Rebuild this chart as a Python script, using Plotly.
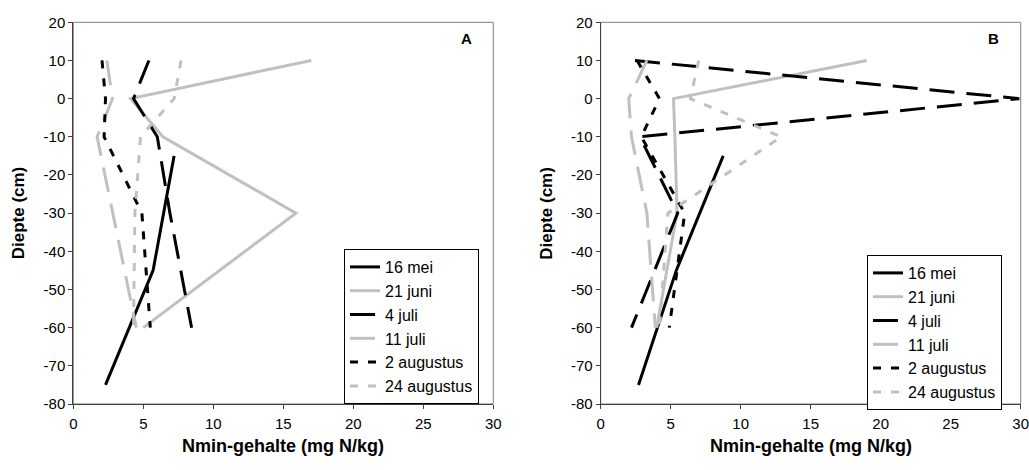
import plotly.graph_objects as go

# Sampling depths (cm); 16 mei was sampled in 30 cm layers
depth_layers = [10, 0, -10, -30, -60]
depth_mei = [-15, -45, -75]

# Nmin content (mg N/kg), location A
mei_16_A = [7.2, 5.7, 2.3]
juni_21_A = [17.0, 4.1, 6.4, 15.9, 5.0]
juli_4_A = [5.4, 4.3, 6.0, 6.9, 8.45]
juli_11_A = [2.4, 2.8, 1.7, 2.8, 4.5]
aug_2_A = [2.05, 2.3, 2.2, 4.9, 5.5]
aug_24_A = [7.7, 7.2, 4.8, 4.4, 4.3]

# Nmin content (mg N/kg), location B
mei_16_B = [8.75, 5.4, 2.7]
juni_21_B = [19.0, 5.2, 5.3, 5.45, 4.0]
juli_4_B = [2.45, 29.9, 2.8, 5.5, 2.2]
juli_11_B = [3.3, 2.0, 2.2, 3.3, 3.9]
aug_2_B = [2.6, 4.2, 2.9, 6.0, 4.9]
aug_24_B = [7.0, 6.4, 12.9, 4.8, 4.2]

series_names = ["16 mei", "21 juni", "4 juli", "11 juli", "2 augustus", "24 augustus"]
x_ticks = [0, 5, 10, 15, 20, 25, 30]
y_ticks = [20, 10, 0, -10, -20, -30, -40, -50, -60, -70, -80]
y_tick_labels = ["20", "10", "0", "-10", "-20", "-30", "-40", "-50", "-60", "-70", "-80"]

BLACK = "#000000"
GREY = "#C0C0C0"
LONG = "25px,12px"
SHORT = "8px,10px"
styles = [
    (BLACK, "solid"),
    (GREY, "solid"),
    (BLACK, LONG),
    (GREY, LONG),
    (BLACK, SHORT),
    (GREY, SHORT),
]

FONT = "Arial, Liberation Sans, sans-serif"

fig = go.Figure()

panels = [
    ("x", "y", "legend", [mei_16_A, juni_21_A, juli_4_A, juli_11_A, aug_2_A, aug_24_A]),
    ("x2", "y2", "legend2", [mei_16_B, juni_21_B, juli_4_B, juli_11_B, aug_2_B, aug_24_B]),
]

for xa, ya, leg, values in panels:
    for i, (name, vals, (col, dash)) in enumerate(zip(series_names, values, styles)):
        depths = depth_mei if len(vals) == 3 else depth_layers
        fig.add_trace(go.Scatter(
            x=vals, y=depths, name=name, mode="lines",
            line=dict(color=col, width=3, dash=dash),
            xaxis=xa, yaxis=ya, legend=leg, legendgroup=f"{leg}-{i}",
        ))

W, H = 1029, 470
ax_common = dict(
    showgrid=False, zeroline=False, showline=True, linecolor="#404040", linewidth=1,
    mirror=False, ticks="outside", ticklen=4, tickcolor="#404040", automargin=False,
    ticklabeloverflow="allow",
    tickfont=dict(family=FONT, size=15, color="#000000"),
)
x_common = dict(range=[0, 30], tickvals=x_ticks, ticklabelstandoff=2, **ax_common)
y_common = dict(range=[-80, 20], tickvals=y_ticks, ticktext=y_tick_labels, **ax_common)

# plot-area pixel extents
ax_px = [(73.3, 493.3), (600.7, 1020.7)]
y_top, y_bot = 22.3, 404.0
y_dom = [1 - y_bot / H, 1 - y_top / H]

legend_common = dict(xanchor="left", yanchor="top", bgcolor="white",
                     bordercolor="#000000", borderwidth=1,
                     font=dict(family=FONT, size=16), tracegroupgap=0,
                     traceorder="grouped")

fig.update_layout(
    template="none",
    width=W, height=H, margin=dict(l=0, r=0, t=0, b=0, autoexpand=False),
    paper_bgcolor="white", plot_bgcolor="white",
    font=dict(family=FONT, color="#000000"),
    xaxis=dict(domain=[ax_px[0][0] / W, ax_px[0][1] / W], anchor="y", **x_common),
    yaxis=dict(domain=y_dom, anchor="x", **y_common),
    xaxis2=dict(domain=[ax_px[1][0] / W, ax_px[1][1] / W], anchor="y2", **x_common),
    yaxis2=dict(domain=y_dom, anchor="x2", **y_common),
    legend=dict(x=344 / W, y=1 - 249 / H, **legend_common),
    legend2=dict(x=867 / W, y=1 - 255 / H, **legend_common),
    showlegend=True,
)

# plot-area frames
for (x0, x1) in ax_px:
    fig.add_shape(type="rect", xref="paper", yref="paper",
                  x0=x0 / W, x1=x1 / W, y0=y_dom[0], y1=y_dom[1],
                  line=dict(color="#808080", width=1), layer="below")

# panel letters
for (x0, x1), letter in zip(ax_px, ["A", "B"]):
    fig.add_annotation(text=f"<b>{letter}</b>", xref="paper", yref="paper",
                       x=(x1 - 27) / W, y=1 - 38 / H, showarrow=False,
                       xanchor="center", yanchor="middle",
                       font=dict(family=FONT, size=15))

# axis titles
for (x0, x1) in ax_px:
    fig.add_annotation(text="<b>Nmin-gehalte (mg N/kg)</b>", xref="paper", yref="paper",
                       x=(x0 + x1) / 2 / W, y=1 - 446 / H, showarrow=False,
                       xanchor="center", yanchor="middle",
                       font=dict(family=FONT, size=18))
    fig.add_annotation(text="<b>Diepte (cm)</b>", xref="paper", yref="paper",
                       x=(x0 - 55) / W, y=1 - 213 / H, showarrow=False, textangle=-90,
                       xanchor="center", yanchor="middle",
                       font=dict(family=FONT, size=17))

fig.write_html("out.html")
